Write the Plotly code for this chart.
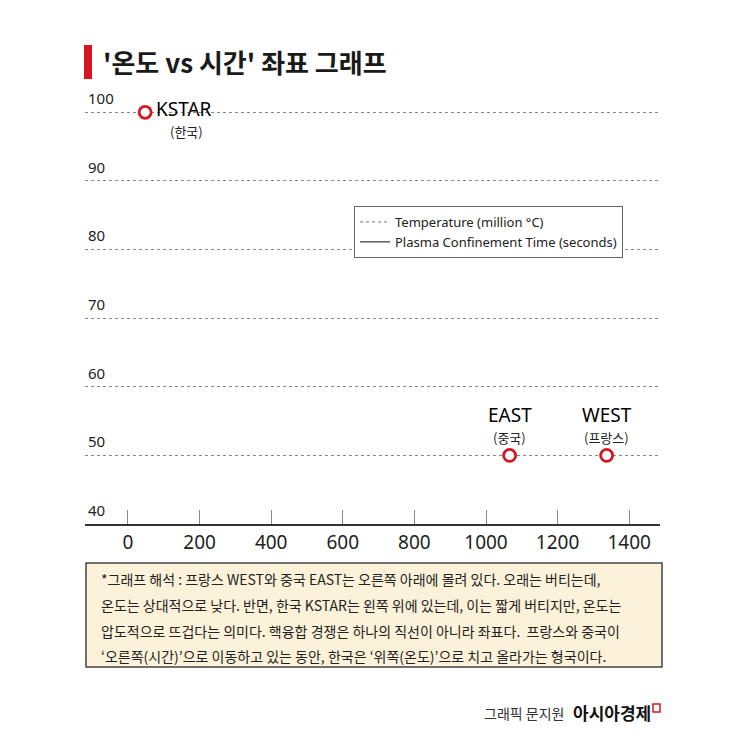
import plotly.graph_objects as go

devices = ["KSTAR", "EAST", "WEST"]
countries = ["(한국)", "(중국)", "(프랑스)"]
confinement_s = [48, 1066, 1337]
temperature_mc = [100, 50, 50]

x_ticks = [0, 200, 400, 600, 800, 1000, 1200, 1400]
y_ticks = [40, 50, 60, 70, 80, 90, 100]

legend_names = ["Temperature (million °C)", "Plasma Confinement Time (seconds)"]

title_text = "'온도 vs 시간' 좌표 그래프"
note_lines = [
    "*그래프 해석 : 프랑스 WEST와 중국 EAST는 오른쪽 아래에 몰려 있다. 오래는 버티는데,",
    "온도는 상대적으로 낮다. 반면, 한국 KSTAR는 왼쪽 위에 있는데, 이는 짧게 버티지만, 온도는",
    "압도적으로 뜨겁다는 의미다. 핵융합 경쟁은 하나의 직선이 아니라 좌표다.  프랑스와 중국이",
    "‘오른쪽(시간)’으로 이동하고 있는 동안, 한국은 ‘위쪽(온도)’으로 치고 올라가는 형국이다.",
]
credit_author = "그래픽 문지원"
credit_brand = "아시아경제"

FONT = "Noto Sans, Noto Sans CJK KR, sans-serif"
KFONT = "Noto Sans CJK KR, sans-serif"
RED = "#d7141f"
OFF = 8                      # page body margin
W = H = 745 - 2 * OFF
Y_RANGE = [40, 105]
# plot area in reference-picture pixels
PL, PR, PB = 85, 660, 524
PX_PER_UNIT = (524 - 112) / 60.0
PT = round(PB - (Y_RANGE[1] - Y_RANGE[0]) * PX_PER_UNIT)
L, R, T, B = PL - OFF, W - (PR - OFF), PT - OFF, H - (PB - OFF)
PH = PB - PT


def py(pix):
    return (PB - pix) / PH


def px(pix):
    return (pix - PL) / (PR - PL)


fig = go.Figure()

fig.add_trace(go.Scatter(
    x=[None], y=[None], mode="lines", name=legend_names[0],
    line=dict(color="#777", width=1, dash="dot"), hoverinfo="skip"))
fig.add_trace(go.Scatter(
    x=[None], y=[None], mode="lines", name=legend_names[1],
    line=dict(color="#333", width=1.2), hoverinfo="skip"))

fig.add_trace(go.Scatter(
    x=confinement_s, y=temperature_mc, mode="markers", showlegend=False,
    marker=dict(size=12, color="white", line=dict(color=RED, width=2.8)),
    cliponaxis=False))

for d, c, xv, yv in zip(devices, countries, confinement_s, temperature_mc):
    if yv > 75:
        fig.add_annotation(x=xv, y=yv, text=d, showarrow=False, xanchor="left", yanchor="middle",
                           xshift=9, yshift=3, font=dict(family=FONT, size=19, color="#000"))
        fig.add_annotation(x=xv, y=yv, text=c, showarrow=False, xanchor="left", yanchor="middle",
                           xshift=23, yshift=-19, font=dict(family=KFONT, size=13, color="#222"))
    else:
        fig.add_annotation(x=xv, y=yv, text=d, showarrow=False, yanchor="middle",
                           yshift=40, font=dict(family=FONT, size=19, color="#000"))
        fig.add_annotation(x=xv, y=yv, text=c, showarrow=False, yanchor="middle",
                           yshift=18, font=dict(family=KFONT, size=13, color="#222"))

# title
fig.add_shape(type="rect", xref="paper", yref="paper", x0=px(84), x1=px(92), y0=py(79), y1=py(45),
              fillcolor=RED, line_width=0)
fig.add_annotation(xref="paper", yref="paper", x=px(101), y=py(61), xanchor="left", yanchor="middle",
                   text="<b>" + title_text + "</b>", showarrow=False,
                   font=dict(family=KFONT, size=26, color="#1a1a1a"))

# note box
fig.add_shape(type="rect", xref="paper", yref="paper", x0=px(86), x1=px(662), y0=py(667), y1=py(563),
              fillcolor="#fbf2d9", line=dict(color="#444", width=1.5))
for i, line in enumerate(note_lines):
    fig.add_annotation(xref="paper", yref="paper", x=px(99), y=py(579 + i * 25.8), xanchor="left",
                       yanchor="middle", text=line, showarrow=False,
                       font=dict(family=KFONT, size=14, color="#222"))

# credit
fig.add_annotation(xref="paper", yref="paper", x=px(566), y=py(713), xanchor="right", yanchor="middle",
                   text=credit_author, showarrow=False, font=dict(family=KFONT, size=14, color="#333"))
fig.add_annotation(xref="paper", yref="paper", x=px(571), y=py(712), xanchor="left", yanchor="middle",
                   text="<b>" + credit_brand + "</b>", showarrow=False,
                   font=dict(family=KFONT, size=17, color="#111"))
fig.add_shape(type="rect", xref="paper", yref="paper", x0=px(653), x1=px(660), y0=py(712), y1=py(704),
              fillcolor="white", line=dict(color=RED, width=1.5))

fig.update_xaxes(range=[-120, 1486], tickvals=x_ticks, ticks="inside", ticklen=14,
                 tickcolor="#888", tickwidth=1, showgrid=False, zeroline=False,
                 showline=True, linecolor="#333", linewidth=1.5,
                 tickfont=dict(family=FONT, size=19, color="#222"))
fig.update_yaxes(range=Y_RANGE, tickvals=y_ticks, showgrid=True, griddash="dot",
                 gridcolor="#888", gridwidth=1, zeroline=False, showline=False, ticks="",
                 ticklabelposition="inside top", ticklabelshift=-3,
                 tickfont=dict(family=FONT, size=15, color="#222"))

fig.update_layout(
    width=W, height=H, margin=dict(l=L, r=R, t=T, b=B),
    paper_bgcolor="white", plot_bgcolor="white",
    showlegend=True,
    legend=dict(x=px(354), y=py(206), xanchor="left", yanchor="top",
                bgcolor="white", bordercolor="#666", borderwidth=1,
                font=dict(family=FONT, size=13, color="#222"),
                tracegroupgap=0, itemwidth=30),
)

fig.write_html("out.html")
